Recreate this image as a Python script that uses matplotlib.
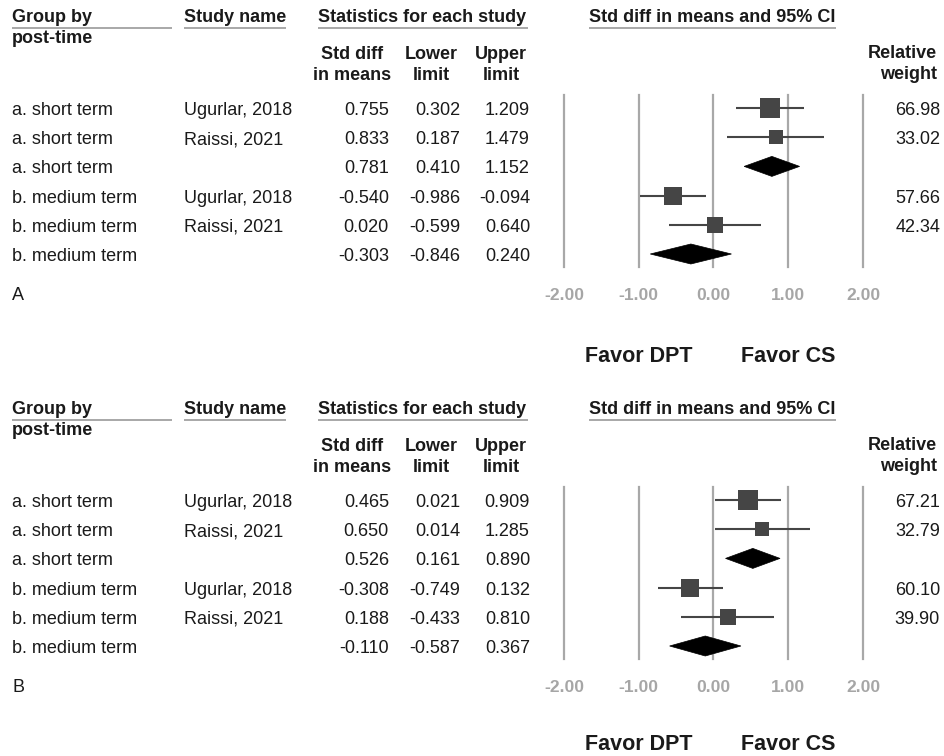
import matplotlib
matplotlib.use("Agg")
import matplotlib.pyplot as plt
from matplotlib.patches import Polygon
from matplotlib.transforms import blended_transform_factory

plt.rcParams['font.family'] = ['Liberation Sans', 'DejaVu Sans']

# ---------------- data ----------------
groups = ["a. short term", "a. short term", "a. short term",
          "b. medium term", "b. medium term", "b. medium term"]
studies = ["Ugurlar, 2018", "Raissi, 2021", "",
           "Ugurlar, 2018", "Raissi, 2021", ""]
is_summary = [False, False, True, False, False, True]

A_est = [0.755, 0.833, 0.781, -0.540, 0.020, -0.303]
A_lo = [0.302, 0.187, 0.410, -0.986, -0.599, -0.846]
A_hi = [1.209, 1.479, 1.152, -0.094, 0.640, 0.240]
A_w = [66.98, 33.02, None, 57.66, 42.34, None]

B_est = [0.465, 0.650, 0.526, -0.308, 0.188, -0.110]
B_lo = [0.021, 0.014, 0.161, -0.749, -0.433, -0.587]
B_hi = [0.909, 1.285, 0.890, 0.132, 0.810, 0.367]
B_w = [67.21, 32.79, None, 60.10, 39.90, None]

ticks = [-2.0, -1.0, 0.0, 1.0, 2.0]
panel_labels = ["A", "B"]
favor_labels = ["Favor DPT", "Favor CS"]
favor_pos = [-1.0, 1.0]

# ---------------- style ----------------
W, H = 945, 756
TXT = "#1a1a1a"
GRID = "#a8a8a8"
ULINE = "#9a9a9a"
SQ = "#454545"
FS = 13

fig = plt.figure(figsize=(W / 100, H / 100), dpi=100)
fig.patch.set_facecolor("white")
ov = fig.add_axes([0, 0, 1, 1])
ov.set_xlim(0, W)
ov.set_ylim(H, 0)
ov.axis("off")

ROW0 = 108
DY = 29.2


def t(x, y, s, ha="left", bold=False, size=FS, color=TXT):
    ov.text(x, y, s, ha=ha, va="baseline", fontsize=size,
            fontweight="bold" if bold else "normal", color=color)


def draw_panel(off, est, lo, hi, wt, plabel, favor_y):
    # headers
    t(12, off + 22, "Group by", bold=True)
    t(12, off + 43, "post-time", bold=True)
    t(184, off + 22, "Study name", bold=True)
    t(318, off + 22, "Statistics for each study", bold=True)
    t(712, off + 22, "Std diff in means and 95% CI", ha="center", bold=True)
    for x0, x1 in [(12, 172), (184, 286), (318, 528), (589, 836)]:
        ov.plot([x0, x1], [off + 28, off + 28], color=ULINE, lw=1.2,
                solid_capstyle="butt")
    t(352, off + 59, "Std diff", ha="center", bold=True)
    t(352, off + 80, "in means", ha="center", bold=True)
    t(431, off + 59, "Lower", ha="center", bold=True)
    t(431, off + 80, "limit", ha="center", bold=True)
    t(501, off + 59, "Upper", ha="center", bold=True)
    t(501, off + 80, "limit", ha="center", bold=True)
    t(937, off + 58, "Relative", ha="right", bold=True)
    t(937, off + 79, "weight", ha="right", bold=True)

    # table rows
    for i in range(len(groups)):
        yb = off + ROW0 + DY * i + 7
        t(12, yb, groups[i])
        t(184, yb, studies[i])
        t(389, yb, f"{est[i]:.3f}", ha="right")
        t(460, yb, f"{lo[i]:.3f}", ha="right")
        t(530, yb, f"{hi[i]:.3f}", ha="right")
        if wt[i] is not None:
            t(940, yb, f"{wt[i]:.2f}", ha="right")
    t(12, off + 300, plabel)

    # forest axes
    top = off + ROW0 - 13
    bot = off + ROW0 + DY * 5 + 13
    ax = fig.add_axes([564 / W, 1 - bot / H, (863 - 564) / W, (bot - top) / H])
    ax.set_facecolor("none")
    ax.set_xlim(-2, 2)
    ax.set_ylim(5 + 13 / DY, -13 / DY)
    for s in ax.spines.values():
        s.set_visible(False)
    ax.set_yticks([])
    ax.set_xticks(ticks)
    ax.set_xticklabels([f"{v:.2f}" for v in ticks])
    ax.tick_params(axis="x", length=0, pad=15, labelsize=12.6,
                   labelcolor="#a6a6a6")
    for lb in ax.get_xticklabels():
        lb.set_fontweight("bold")
    for v in ticks:
        ax.axvline(v, color=GRID, lw=1.6, clip_on=False, zorder=1)

    hh = 10 / DY
    for i in range(len(est)):
        if is_summary[i]:
            ax.add_patch(Polygon([[lo[i], i], [est[i], i - hh],
                                  [hi[i], i], [est[i], i + hh]],
                                 closed=True, facecolor="black",
                                 edgecolor="black", lw=0.5, zorder=3,
                                 clip_on=False))
        else:
            ax.plot([lo[i], hi[i]], [i, i], color=SQ, lw=1.5, zorder=2,
                    clip_on=False, solid_capstyle="butt")
            ax.plot([est[i]], [i], marker="s", linestyle="none",
                    markersize=1.764 * wt[i] ** 0.5, color=SQ,
                    markeredgewidth=0, zorder=3, clip_on=False)

    tr = blended_transform_factory(ax.transData, ov.transData)
    for lab, xp in zip(favor_labels, favor_pos):
        ax.text(xp, favor_y, lab, transform=tr, ha="center", va="baseline",
                fontsize=15.5, fontweight="bold", color=TXT)


draw_panel(0, A_est, A_lo, A_hi, A_w, panel_labels[0], 362)
draw_panel(392, B_est, B_lo, B_hi, B_w, panel_labels[1], 750)

fig.savefig("out.png", dpi=100, facecolor="white")
